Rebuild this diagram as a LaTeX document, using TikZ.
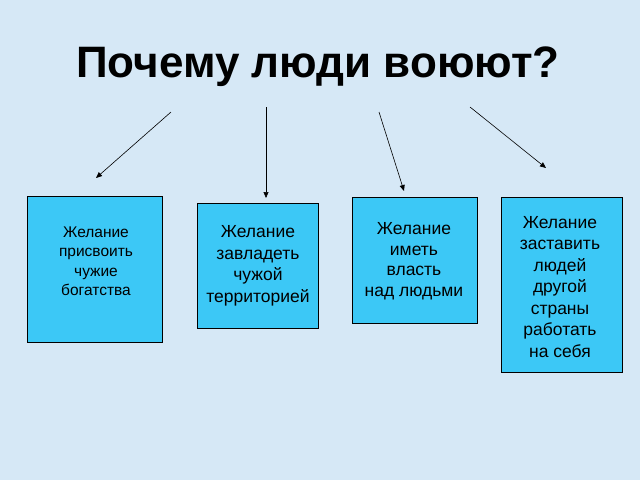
\documentclass[tikz,border=0pt]{standalone}
\usepackage{fontspec}
\setmainfont{Liberation Sans}
\usetikzlibrary{arrows.meta}
\definecolor{bg}{RGB}{214,232,246}
\definecolor{boxc}{RGB}{60,200,246}
\begin{document}
\begin{tikzpicture}[x=1pt,y=-1pt,
  box/.style={draw=black,fill=boxc,line width=0.6pt,anchor=north west,align=center,inner sep=0pt},
  arr/.style={-{Triangle[length=6pt,width=5pt]},line width=0.6pt}]
\fill[bg] (0,0) rectangle (640,480);
\useasboundingbox (0,0) rectangle (640,480);
\node[font=\bfseries\fontsize{44}{48}\selectfont] (title) at (318,67) {Почему люди воюют?};
\node[box,minimum width=135pt,minimum height=146pt] (b1) at (27,196) {};
\node[align=center,font=\fontsize{15.5}{19.5}\selectfont] (t1) at (96,261) {Желание\\присвоить\\чужие\\ богатства};
\node[box,minimum width=121pt,minimum height=125pt] (b2) at (197,203) {};
\node[align=center,font=\fontsize{17.5}{21.5}\selectfont] (t2) at (258,266) {Желание\\ завладеть\\чужой\\территорией};
\node[box,minimum width=125pt,minimum height=126pt] (b3) at (352,197) {};
\node[align=center,font=\fontsize{17.5}{20.5}\selectfont] (t3) at (414,261) {Желание\\иметь\\власть\\ над людьми};
\node[box,minimum width=121pt,minimum height=175pt] (b4) at (501,197) {};
\node[align=center,font=\fontsize{17.5}{21.5}\selectfont] (t4) at (560,287) {Желание\\ заставить\\людей\\другой\\ страны\\работать\\на себя};
\coordinate (s1) at (171,112); \coordinate (e1) at (96,178);
\coordinate (s2) at (266,107); \coordinate (e2) at (266,198);
\coordinate (s3) at (379,112); \coordinate (e3) at (404,191);
\coordinate (s4) at (470,107); \coordinate (e4) at (546,168);
\draw[arr] (s1) -- (e1);
\draw[arr] (s2) -- (e2);
\draw[arr] (s3) -- (e3);
\draw[arr] (s4) -- (e4);
\end{tikzpicture}
\end{document}
